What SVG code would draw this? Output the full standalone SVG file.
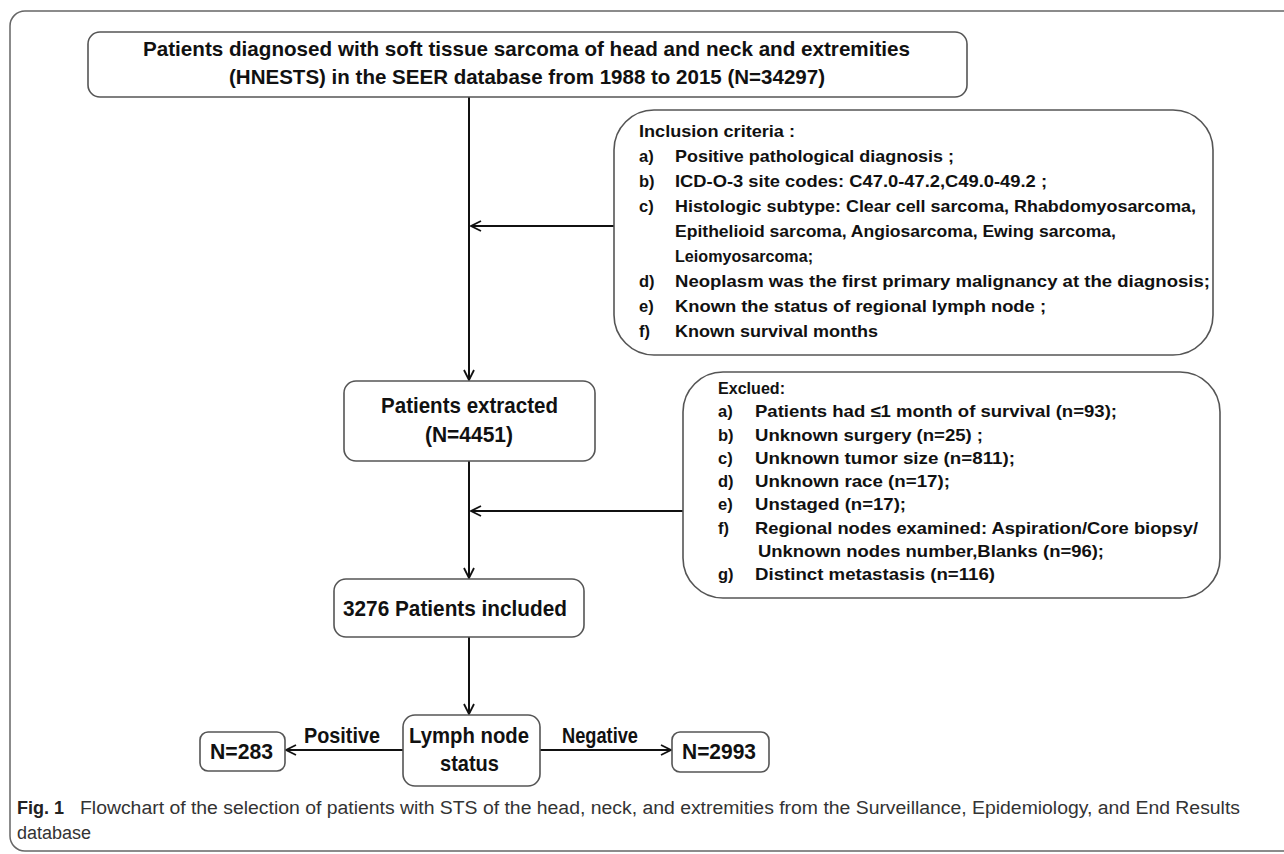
<svg xmlns="http://www.w3.org/2000/svg" width="1284" height="854" viewBox="0 0 1284 854">
<defs>
<marker id="arr" viewBox="0 0 12 12" refX="11" refY="6" markerWidth="12" markerHeight="12" markerUnits="userSpaceOnUse" orient="auto">
<path d="M1,1 L11,6 L1,11" fill="none" stroke="#111" stroke-width="1.8"/>
</marker>
</defs>
<style>
.box{fill:#fff;stroke:#555;stroke-width:1.6}
.t{font-family:"Liberation Sans",Arial,sans-serif;font-weight:bold;fill:#111}
.s15{font-size:16.5px}
.s19{font-size:20.5px}
.s21{font-size:22px}
.c{stroke:#111;stroke-width:2;fill:none}
.cap{font-family:"Liberation Sans",Arial,sans-serif;font-size:18px;fill:#333}
</style>
<rect x="10" y="11" width="1300" height="840" rx="15" fill="none" stroke="#666" stroke-width="1.5"/>

<g id="connectors">
<line class="c" x1="469" y1="97" x2="469" y2="380" marker-end="url(#arr)"/>
<line class="c" x1="614" y1="226" x2="471" y2="226" marker-end="url(#arr)"/>
<line class="c" x1="469" y1="461" x2="469" y2="578" marker-end="url(#arr)"/>
<line class="c" x1="683" y1="511" x2="471" y2="511" marker-end="url(#arr)"/>
<line class="c" x1="469" y1="637" x2="469" y2="714" marker-end="url(#arr)"/>
<line class="c" x1="403" y1="750" x2="286" y2="750" marker-end="url(#arr)"/>
<line class="c" x1="540" y1="750" x2="671" y2="750" marker-end="url(#arr)"/>
<text class="t s21" x="304" y="743" textLength="76" lengthAdjust="spacingAndGlyphs">Positive</text>
<text class="t s21" x="562" y="743" textLength="76" lengthAdjust="spacingAndGlyphs">Negative</text>
</g>

<g id="top">
<rect class="box" x="88" y="32" width="879" height="65" rx="12"/>
<text class="t s19" x="143" y="56" textLength="767" lengthAdjust="spacingAndGlyphs">Patients diagnosed with soft tissue sarcoma of head and neck and extremities</text>
<text class="t s19" x="229" y="84" textLength="596" lengthAdjust="spacingAndGlyphs">(HNESTS) in the SEER database from 1988 to 2015 (N=34297)</text>
</g>

<g id="inclusion">
<rect class="box" x="614" y="110" width="599" height="245" rx="40"/>
<text class="t s15" x="639" y="137" textLength="156" lengthAdjust="spacingAndGlyphs">Inclusion criteria :</text>
<text class="t s15" x="639" y="162">a)</text>
<text class="t s15" x="675" y="162" textLength="279" lengthAdjust="spacingAndGlyphs">Positive pathological diagnosis ;</text>
<text class="t s15" x="639" y="187">b)</text>
<text class="t s15" x="675" y="187" textLength="372" lengthAdjust="spacingAndGlyphs">ICD-O-3 site codes: C47.0-47.2,C49.0-49.2 ;</text>
<text class="t s15" x="639" y="212">c)</text>
<text class="t s15" x="675" y="212" textLength="521" lengthAdjust="spacingAndGlyphs">Histologic subtype: Clear cell sarcoma, Rhabdomyosarcoma,</text>
<text class="t s15" x="675" y="237" textLength="441" lengthAdjust="spacingAndGlyphs">Epithelioid sarcoma, Angiosarcoma, Ewing sarcoma,</text>
<text class="t s15" x="675" y="262" textLength="138" lengthAdjust="spacingAndGlyphs">Leiomyosarcoma;</text>
<text class="t s15" x="639" y="287">d)</text>
<text class="t s15" x="675" y="287" textLength="535" lengthAdjust="spacingAndGlyphs">Neoplasm was the first primary malignancy at the diagnosis;</text>
<text class="t s15" x="639" y="312">e)</text>
<text class="t s15" x="675" y="312" textLength="371" lengthAdjust="spacingAndGlyphs">Known the status of regional lymph node ;</text>
<text class="t s15" x="639" y="337">f)</text>
<text class="t s15" x="675" y="337" textLength="203" lengthAdjust="spacingAndGlyphs">Known survival months</text>
</g>

<g id="extracted">
<rect class="box" x="344" y="381" width="251" height="80" rx="12"/>
<text class="t s21" x="381" y="413" textLength="177" lengthAdjust="spacingAndGlyphs">Patients extracted</text>
<text class="t s21" x="425" y="442" textLength="88" lengthAdjust="spacingAndGlyphs">(N=4451)</text>
</g>

<g id="exclusion">
<rect class="box" x="683" y="372" width="537" height="226" rx="40"/>
<text class="t s15" x="718" y="394" textLength="67" lengthAdjust="spacingAndGlyphs">Exclued:</text>
<text class="t s15" x="718" y="417">a)</text>
<text class="t s15" x="755" y="417" textLength="362" lengthAdjust="spacingAndGlyphs">Patients had ≤1 month of survival (n=93);</text>
<text class="t s15" x="718" y="441">b)</text>
<text class="t s15" x="755" y="441" textLength="228" lengthAdjust="spacingAndGlyphs">Unknown surgery (n=25) ;</text>
<text class="t s15" x="718" y="464">c)</text>
<text class="t s15" x="755" y="464" textLength="260" lengthAdjust="spacingAndGlyphs">Unknown tumor size (n=811);</text>
<text class="t s15" x="718" y="487">d)</text>
<text class="t s15" x="755" y="487" textLength="195" lengthAdjust="spacingAndGlyphs">Unknown race (n=17);</text>
<text class="t s15" x="718" y="510">e)</text>
<text class="t s15" x="755" y="510" textLength="151" lengthAdjust="spacingAndGlyphs">Unstaged (n=17);</text>
<text class="t s15" x="718" y="534">f)</text>
<text class="t s15" x="755" y="534" textLength="443" lengthAdjust="spacingAndGlyphs">Regional nodes examined: Aspiration/Core biopsy/</text>
<text class="t s15" x="758" y="557" textLength="346" lengthAdjust="spacingAndGlyphs">Unknown nodes number,Blanks (n=96);</text>
<text class="t s15" x="718" y="580">g)</text>
<text class="t s15" x="755" y="580" textLength="240" lengthAdjust="spacingAndGlyphs">Distinct metastasis (n=116)</text>
</g>

<g id="included">
<rect class="box" x="334" y="579" width="250" height="58" rx="12"/>
<text class="t s21" x="343" y="616" textLength="224" lengthAdjust="spacingAndGlyphs">3276 Patients included</text>
</g>

<g id="lymph">
<rect class="box" x="403" y="715" width="137" height="71" rx="12"/>
<text class="t s21" x="409" y="743" textLength="120" lengthAdjust="spacingAndGlyphs">Lymph node</text>
<text class="t s21" x="440" y="771" textLength="59" lengthAdjust="spacingAndGlyphs">status</text>
</g>

<g id="pos">
<rect class="box" x="200" y="732" width="85" height="39" rx="8"/>
<text class="t s21" x="210" y="759" textLength="63" lengthAdjust="spacingAndGlyphs">N=283</text>
</g>

<g id="neg">
<rect class="box" x="672" y="732" width="97" height="40" rx="8"/>
<text class="t s21" x="682" y="759" textLength="74" lengthAdjust="spacingAndGlyphs">N=2993</text>
</g>

<g id="caption">
<text class="cap" x="17" y="814"><tspan font-weight="bold" fill="#222">Fig. 1</tspan></text>
<text class="cap" x="80" y="814" textLength="1160" lengthAdjust="spacingAndGlyphs">Flowchart of the selection of patients with STS of the head, neck, and extremities from the Surveillance, Epidemiology, and End Results</text>
<text class="cap" x="17" y="839">database</text>
</g>
</svg>
